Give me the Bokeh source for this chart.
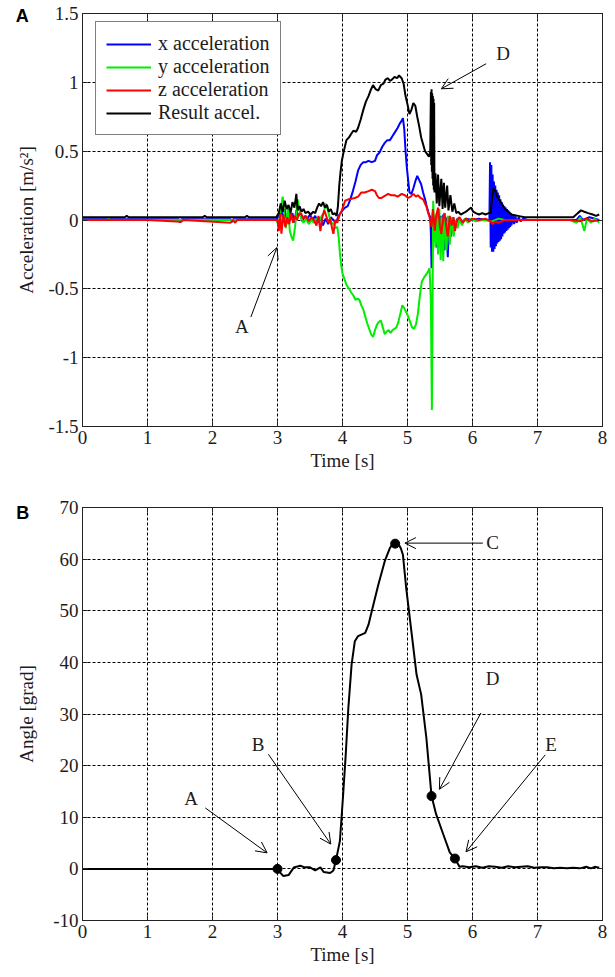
from bokeh.plotting import figure
from bokeh.models import (Range1d, FixedTicker, Label, Arrow, OpenHead, Legend,
                          LegendItem, CustomJSTickFormatter, LinearAxis)
from bokeh.layouts import column
from bokeh.embed import file_html
from bokeh.resources import INLINE

# ---------------- data : panel A (accelerations, m/s^2) ----------------
x_acc_t = [0.0, 0.9, 1.48, 1.50, 1.52, 2.28, 2.30, 2.32, 2.98,
           3.02, 3.05, 3.08, 3.11, 3.14, 3.17, 3.20, 3.23, 3.26, 3.29, 3.32, 3.35, 3.38,
           3.42, 3.46, 3.50, 3.54, 3.58, 3.62, 3.66, 3.70, 3.74, 3.78, 3.82, 3.86, 3.90,
           3.94, 3.97, 4.00, 4.04, 4.08, 4.12, 4.16, 4.20, 4.24, 4.28, 4.32, 4.36, 4.40,
           4.45, 4.50, 4.53, 4.57, 4.61, 4.65, 4.69, 4.73, 4.77, 4.81, 4.85, 4.88, 4.91,
           4.93, 4.95, 4.97, 4.99, 5.01, 5.03, 5.06, 5.09, 5.12, 5.15, 5.18, 5.21, 5.24,
           5.27, 5.30, 5.33, 5.35, 5.36, 5.37, 5.38, 5.39, 5.41, 5.43, 5.45, 5.47, 5.49,
           5.51, 5.53, 5.55, 5.57, 5.59, 5.62, 5.64, 5.67, 5.70, 5.73, 5.77, 5.82, 5.90,
           6.00, 6.10, 6.20, 6.26,
           6.27, 6.28, 6.29, 6.30, 6.31, 6.32, 6.33, 6.34, 6.35, 6.36, 6.37, 6.38, 6.39,
           6.40, 6.41, 6.42, 6.43, 6.44, 6.45, 6.46, 6.47, 6.48, 6.49, 6.50, 6.51, 6.52,
           6.53, 6.54, 6.55, 6.56, 6.57, 6.58, 6.59, 6.60, 6.62, 6.64, 6.66, 6.68, 6.71,
           6.74, 6.78, 6.85, 7.2, 7.6, 7.65, 7.70, 7.80, 7.95]
x_acc_v = [0.005, 0.005, 0.005, -0.02, 0.005, 0.005, -0.015, 0.005, 0.005,
           0.03, 0.10, 0.02, 0.08, -0.03, 0.06, 0.00, 0.05, -0.02, 0.07, 0.03, 0.05, -0.01,
           0.03, 0.01, 0.04, 0.00, 0.03, -0.02, 0.02, -0.04, 0.01, -0.03, 0.02, 0.00, -0.02,
           0.03, 0.05, 0.07, 0.09, 0.10, 0.15, 0.21, 0.28, 0.36, 0.40, 0.42, 0.42, 0.43,
           0.42, 0.43, 0.47, 0.49, 0.53, 0.56, 0.58, 0.58, 0.61, 0.64, 0.67, 0.70, 0.72,
           0.74, 0.66, 0.50, 0.38, 0.29, 0.20, 0.19, 0.23, 0.28, 0.32, 0.29, 0.26, 0.20,
           0.15, 0.09, 0.04, 0.02, -0.10, -0.35, -0.20, 0.05, -0.15, 0.02, -0.20, 0.05, -0.18,
           0.03, -0.14, 0.04, -0.22, 0.02, -0.27, 0.01, -0.12, 0.02, -0.05, 0.01, -0.02, 0.01,
           0.00, 0.01, 0.00, 0.00,
           0.42, -0.20, 0.40, -0.23, 0.33, -0.23, 0.28, -0.21, 0.25, -0.19, 0.22, -0.17, 0.20,
           -0.16, 0.18, -0.15, 0.15, -0.14, 0.13, -0.12, 0.11, -0.10, 0.10, -0.09, 0.09, -0.08,
           0.08, -0.07, 0.07, -0.06, 0.06, -0.05, 0.05, -0.04, 0.04, -0.03, 0.03, -0.02, 0.02,
           -0.01, 0.01, 0.00, 0.00, 0.00, 0.03, 0.00, 0.02, 0.00]

y_acc_t = [0.0, 0.38, 0.40, 0.42, 1.0, 2.0, 2.98,
           3.02, 3.05, 3.08, 3.10, 3.13, 3.16, 3.19, 3.22, 3.24, 3.27, 3.29, 3.31, 3.33,
           3.36, 3.40, 3.44, 3.48, 3.52, 3.56, 3.60, 3.64, 3.68, 3.71, 3.74, 3.77, 3.80,
           3.83, 3.86, 3.89, 3.92, 3.94, 3.96, 3.98, 4.00, 4.03, 4.06, 4.10, 4.14, 4.17,
           4.20, 4.23, 4.26, 4.29, 4.32, 4.35, 4.38, 4.41, 4.44, 4.47, 4.50, 4.53, 4.56,
           4.59, 4.62, 4.65, 4.68, 4.71, 4.74, 4.77, 4.80, 4.83, 4.86, 4.89, 4.92, 4.95,
           4.98, 5.01, 5.04, 5.07, 5.10, 5.13, 5.16, 5.19, 5.22, 5.25, 5.28, 5.31, 5.34,
           5.36, 5.375, 5.385, 5.395, 5.41, 5.43, 5.45, 5.47, 5.49, 5.51, 5.53, 5.55, 5.57,
           5.60, 5.62, 5.65, 5.68, 5.71, 5.74, 5.77, 5.80, 5.84, 5.88, 5.93, 5.98, 6.05,
           6.15, 6.30, 6.40, 6.50, 7.0, 7.5, 7.60, 7.66, 7.72, 7.76, 7.82, 7.88, 7.95]
y_acc_v = [0.0, 0.0, 0.012, 0.0, 0.0, 0.0, 0.0,
           -0.04, 0.08, 0.17, 0.05, -0.06, 0.10, -0.08, -0.13, -0.15, -0.05, 0.05, 0.15, 0.09,
           0.02, -0.02, 0.01, -0.03, 0.00, -0.02, 0.01, -0.01, 0.03, 0.05, 0.12, 0.08, 0.02,
           -0.03, -0.02, -0.06, -0.05, -0.12, -0.24, -0.33, -0.39, -0.43, -0.47, -0.50, -0.53, -0.55,
           -0.58, -0.57, -0.58, -0.62, -0.65, -0.70, -0.75, -0.79, -0.83, -0.85, -0.80, -0.76, -0.74,
           -0.73, -0.78, -0.83, -0.81, -0.80, -0.82, -0.80, -0.79, -0.78, -0.74, -0.68, -0.62, -0.64,
           -0.67, -0.70, -0.74, -0.78, -0.79, -0.76, -0.68, -0.55, -0.45, -0.42, -0.40, -0.38, -0.35,
           -0.60, -1.38, -0.70, 0.14, -0.05, -0.20, 0.05, -0.25, 0.08, -0.29, 0.02, -0.30, 0.05,
           -0.22, 0.03, -0.18, 0.02, -0.12, 0.00, -0.06, 0.01, -0.04, 0.01, -0.02, 0.01, -0.01,
           0.0, -0.01, 0.01, 0.0, 0.0, 0.0, -0.02, 0.02, -0.08, 0.01, -0.02, 0.01, -0.02]

z_acc_t = [0.0, 0.5, 1.0, 1.52, 1.55, 2.28, 2.31, 2.35, 2.38, 2.98,
           3.00, 3.02, 3.04, 3.06, 3.09, 3.12, 3.15, 3.18, 3.21, 3.24, 3.27, 3.30, 3.33,
           3.36, 3.40, 3.44, 3.48, 3.52, 3.56, 3.60, 3.63, 3.66, 3.69, 3.72, 3.75, 3.78,
           3.81, 3.84, 3.86, 3.89, 3.92, 3.95, 3.99, 4.04, 4.09, 4.14, 4.19, 4.24, 4.29,
           4.34, 4.40, 4.45, 4.50, 4.53, 4.56, 4.60, 4.63, 4.67, 4.70, 4.75, 4.80, 4.85,
           4.91, 4.96, 5.01, 5.05, 5.09, 5.13, 5.16, 5.20, 5.24, 5.27, 5.29, 5.32, 5.34,
           5.37, 5.39, 5.42, 5.44, 5.47, 5.50, 5.52, 5.55, 5.57, 5.60, 5.62, 5.65, 5.68,
           5.71, 5.73, 5.76, 5.80, 5.85, 5.90, 5.95, 6.00, 6.10, 6.20, 6.28, 6.31, 6.35,
           6.40, 6.50, 6.60, 7.0, 7.5, 7.65, 7.75, 7.85, 7.95]
z_acc_v = [0.0, 0.0, 0.0, -0.012, 0.0, -0.02, 0.0, -0.02, 0.0, 0.0,
           0.00, -0.08, 0.05, -0.10, 0.04, -0.05, 0.02, -0.03, 0.05, -0.02, 0.03, 0.00, 0.04,
           0.05, 0.01, 0.03, -0.01, 0.02, 0.00, -0.04, 0.03, -0.08, 0.02, 0.07, 0.03, -0.02,
           0.01, -0.06, -0.10, 0.00, -0.02, 0.03, 0.07, 0.14, 0.15, 0.155, 0.16, 0.17, 0.20,
           0.20, 0.21, 0.22, 0.21, 0.18, 0.16, 0.16, 0.17, 0.18, 0.19, 0.18, 0.18, 0.17,
           0.19, 0.18, 0.16, 0.17, 0.19, 0.17, 0.18, 0.16, 0.15, 0.12, 0.10, 0.05, 0.02,
           -0.05, 0.08, -0.08, 0.03, 0.09, -0.05, -0.10, 0.02, 0.05, -0.06, -0.12, 0.03, -0.04,
           0.02, -0.08, 0.00, 0.02, -0.02, 0.01, -0.01, 0.01, 0.0, 0.01, -0.01, -0.03, -0.01,
           -0.02, 0.0, 0.0, 0.0, 0.0, -0.01, 0.01, -0.01, 0.0]

res_acc_t = [0.0, 0.3, 0.65, 0.68, 0.71, 1.2, 1.85, 1.88, 1.91, 2.5, 2.53, 2.56, 2.98,
             3.02, 3.05, 3.08, 3.11, 3.14, 3.17, 3.20, 3.23, 3.26, 3.29, 3.31, 3.34, 3.37,
             3.40, 3.43, 3.47, 3.51, 3.55, 3.58, 3.61, 3.64, 3.67, 3.70, 3.73, 3.76, 3.79,
             3.82, 3.85, 3.88, 3.91, 3.93, 3.95, 3.97, 3.99, 4.02, 4.06, 4.10, 4.14, 4.17,
             4.21, 4.24, 4.28, 4.32, 4.36, 4.40, 4.44, 4.47, 4.51, 4.55, 4.59, 4.63, 4.66,
             4.70, 4.73, 4.76, 4.80, 4.84, 4.87, 4.91, 4.94, 4.97, 5.00, 5.03, 5.06, 5.09,
             5.12, 5.15, 5.18, 5.21, 5.24, 5.27, 5.30, 5.33, 5.35,
             5.36, 5.365, 5.37, 5.375, 5.38, 5.385, 5.39, 5.395, 5.40, 5.405, 5.41, 5.415,
             5.43, 5.45, 5.47, 5.49, 5.52, 5.54, 5.56, 5.58, 5.61, 5.63, 5.66, 5.69, 5.72,
             5.75, 5.78, 5.82, 5.86, 5.90, 5.95, 5.98, 6.01, 6.05, 6.10, 6.15, 6.20, 6.25,
             6.28, 6.30, 6.32, 6.35, 6.38, 6.42, 6.46, 6.50, 6.55, 6.60, 6.70, 6.80, 7.00,
             7.30, 7.55, 7.62, 7.67, 7.72, 7.78, 7.85, 7.90, 7.95]
res_acc_v = [0.02, 0.02, 0.02, 0.03, 0.02, 0.02, 0.02, 0.03, 0.02, 0.02, 0.03, 0.02, 0.02,
             0.05, 0.12, 0.06, 0.14, 0.08, 0.11, 0.05, 0.13, 0.09, 0.19, 0.07, 0.10, 0.06,
             0.08, 0.05, 0.06, 0.04, 0.06, 0.05, 0.09, 0.12, 0.10, 0.13, 0.09, 0.11, 0.06,
             0.08, 0.04, 0.05, 0.03, 0.10, 0.25, 0.35, 0.43, 0.50, 0.58, 0.60, 0.63, 0.65,
             0.64, 0.67, 0.73, 0.80, 0.86, 0.90, 0.95, 0.98, 0.95, 0.94, 0.98, 0.99, 1.02,
             1.03, 1.01, 1.02, 1.04, 1.03, 1.05, 1.03, 0.99, 0.90, 0.84, 0.77, 0.80, 0.85,
             0.83, 0.75, 0.68, 0.60, 0.55, 0.50, 0.48, 0.46, 0.50,
             0.93, 0.40, 0.95, 0.35, 0.92, 0.30, 0.90, 0.25, 0.88, 0.22, 0.85, 0.20,
             0.34, 0.12, 0.33, 0.10, 0.30, 0.08, 0.27, 0.09, 0.25, 0.07, 0.18, 0.06, 0.12,
             0.05, 0.06, 0.04, 0.05, 0.06, 0.08, 0.09, 0.06, 0.05, 0.04, 0.05, 0.04, 0.05,
             0.05, 0.15, 0.23, 0.21, 0.17, 0.14, 0.11, 0.08, 0.06, 0.04, 0.03, 0.02, 0.02,
             0.02, 0.02, 0.05, 0.07, 0.06, 0.05, 0.04, 0.03, 0.04]

# ---------------- data : panel B (angle, grad) ----------------
angle_t = [0.0, 1.0, 2.0, 2.99, 3.09, 3.17, 3.25, 3.35, 3.42, 3.50, 3.58, 3.66, 3.71,
           3.81, 3.86, 3.90, 3.96, 4.01, 4.05, 4.09, 4.14, 4.19, 4.24, 4.35, 4.40, 4.45,
           4.55, 4.65, 4.73, 4.78, 4.81, 4.86, 4.90, 4.93, 4.98, 5.06, 5.14, 5.21, 5.29,
           5.37, 5.44, 5.55, 5.65, 5.73, 5.80, 5.85, 5.95, 6.05, 6.15, 6.25, 6.35, 6.45,
           6.55, 6.65, 6.75, 6.85, 6.95, 7.05, 7.15, 7.25, 7.35, 7.45, 7.55, 7.65, 7.75,
           7.82, 7.88, 7.95]
angle_v = [0.0, 0.0, 0.0, 0.0, -1.4, -1.2, 0.25, 0.6, 0.3, 0.3, -0.3, 0.3, -0.6,
           -0.8, -0.3, 1.7, 5.4, 14.4, 22.2, 31.2, 39.6, 44.1, 45.1, 45.7, 47.3, 49.9,
           55.0, 59.6, 62.2, 63.0, 63.1, 63.0, 62.0, 60.8, 54.4, 46.0, 37.6, 33.8, 25.4,
           14.1, 10.6, 6.7, 3.2, 2.0, 0.4, 0.5, 0.3, 0.5, 0.2, 0.5, 0.4, 0.2,
           0.5, 0.3, 0.4, 0.5, 0.2, 0.3, 0.3, 0.1, 0.2, 0.1, 0.2, 0.1, 0.4,
           0.1, 0.4, 0.2]
key_t = [3.0, 3.90, 4.81, 5.37, 5.73]
key_v = [0.0, 1.7, 63.0, 14.1, 2.0]

x_ticks = [0, 1, 2, 3, 4, 5, 6, 7, 8]
acc_ticks = [-1.5, -1, -0.5, 0, 0.5, 1, 1.5]
angle_ticks = [-10, 0, 10, 20, 30, 40, 50, 60, 70]
series_names = ["x acceleration", "y acceleration", "z acceleration", "Result accel."]
series_colors = ["#0000ff", "#00ee00", "#ff0000", "#000000"]

# annotations (label text, label position, arrow start, arrow end) in data units
annA_text = ["A", "D"]
annA_xy = [(2.45, -0.775), (6.47, 1.21)]
annA_arrows = [((2.59, -0.705), (2.99, -0.20)), ((6.21, 1.135), (5.52, 0.953))]
annB_text = ["A", "B", "C", "D", "E"]
annB_xy = [(1.67, 13.6), (2.70, 24.1), (6.31, 63.2), (6.31, 36.8), (7.21, 24.0)]
annB_arrows = [((1.89, 11.8), (2.84, 3.1)), ((2.86, 22.2), (3.82, 4.8)),
               ((6.16, 63.1), (4.96, 63.1)), ((6.13, 30.2), (5.49, 15.4)),
               ((7.12, 22.1), (5.90, 3.3))]
panel_letters = ["A", "B"]
panel_letter_xy = [(-0.927, 1.482), (-0.92, 68.84)]

SERIF = "Liberation Serif"
TXT = "#1c1c1c"


def make_fig(h, top, bottom, yr, yticks, ylabel, ylab_standoff):
    p = figure(width=608, height=h, x_range=Range1d(0, 8), y_range=Range1d(*yr),
               output_backend="svg", toolbar_location=None,
               min_border_left=80, min_border_right=6,
               min_border_top=top, min_border_bottom=bottom)
    p.background_fill_color = "white"
    p.border_fill_color = "white"
    p.outline_line_color = "#222222"
    p.outline_line_width = 1
    p.outline_line_alpha = 1
    p.xaxis.ticker = FixedTicker(ticks=x_ticks)
    p.yaxis.ticker = FixedTicker(ticks=yticks)
    p.yaxis.formatter = CustomJSTickFormatter(code="return tick.toString();")
    for ax in (p.xaxis[0], p.yaxis[0]):
        ax.major_label_text_font = SERIF
        ax.major_label_text_font_size = "19px"
        ax.major_label_text_color = TXT
        ax.axis_label_text_font = SERIF
        ax.axis_label_text_font_size = "19px"
        ax.axis_label_text_font_style = "normal"
        ax.axis_label_text_color = TXT
        ax.major_tick_in = 5
        ax.major_tick_out = 0
        ax.minor_tick_line_color = None
        ax.axis_line_color = "#222222"
        ax.major_tick_line_color = "#222222"
        ax.major_label_standoff = 4
    p.xaxis[0].axis_label_standoff = 3
    p.yaxis[0].axis_label_standoff = ylab_standoff
    p.xaxis.axis_label = "Time [s]"
    p.yaxis.axis_label = ylabel
    # tick marks on the top and right edges of the box (no labels)
    for side, ticks in (("above", x_ticks), ("right", yticks)):
        ax = LinearAxis(ticker=FixedTicker(ticks=ticks),
                        formatter=CustomJSTickFormatter(code="return '';"),
                        major_tick_in=5, major_tick_out=0, minor_tick_line_color=None,
                        major_label_text_font_size="0px", major_label_standoff=0,
                        axis_line_color="#222222", major_tick_line_color="#222222")
        p.add_layout(ax, side)
    for g in (p.xgrid[0], p.ygrid[0]):
        g.grid_line_color = "black"
        g.grid_line_dash = "3 2"
        g.grid_line_width = 1
        g.grid_line_alpha = 1
    return p


def annotate(p, texts, xy, arrows):
    for t, (x, y) in zip(texts, xy):
        p.add_layout(Label(x=x, y=y, text=t, text_font=SERIF, text_font_size="19px",
                           text_color=TXT, text_align="center", text_baseline="middle"))
    for (s, e) in arrows:
        p.add_layout(Arrow(x_start=s[0], y_start=s[1], x_end=e[0], y_end=e[1],
                           line_color="black", line_width=1,
                           end=OpenHead(size=11, line_color="black", line_width=1)))


def panel_letter(p, text, xy):
    # placed in the left side panel so that it is not clipped to the frame
    p.add_layout(Label(x=xy[0], y=xy[1], text=text, text_font="Liberation Sans",
                       text_font_style="bold", text_font_size="18px", text_color="black",
                       text_align="center", text_baseline="middle"), "left")


# ---------------- panel A ----------------
p1 = make_fig(486, 13, 60, (-1.5, 1.5), acc_ticks, "Acceleration [m/s\u00b2]", 8)
renderers = []
for tt, vv, c in zip([x_acc_t, y_acc_t, z_acc_t, res_acc_t],
                     [x_acc_v, y_acc_v, z_acc_v, res_acc_v], series_colors):
    renderers.append(p1.line(tt, vv, line_color=c, line_width=2))
legend = Legend(items=[LegendItem(label=n, renderers=[r]) for n, r in zip(series_names, renderers)],
                location=(13, 291))
legend.margin = 0
legend.padding = 10
legend.spacing = 0
legend.glyph_width = 45
legend.glyph_height = 20
legend.label_height = 20
legend.label_standoff = 7
legend.label_text_font = SERIF
legend.label_text_font_size = "20px"
legend.label_text_color = TXT
legend.border_line_color = "black"
legend.border_line_width = 1
legend.background_fill_alpha = 1
p1.add_layout(legend)
annotate(p1, annA_text, annA_xy, annA_arrows)
panel_letter(p1, panel_letters[0], panel_letter_xy[0])

# ---------------- panel B ----------------
p2 = make_fig(490, 21, 56, (-10, 70), angle_ticks, "Angle [grad]", 13)
p2.line(angle_t, angle_v, line_color="black", line_width=2)
p2.scatter(key_t, key_v, size=9, color="black")
annotate(p2, annB_text, annB_xy, annB_arrows)
panel_letter(p2, panel_letters[1], panel_letter_xy[1])

layout = column(p1, p2, spacing=0)
open("out.html", "w").write(file_html(layout, INLINE))
